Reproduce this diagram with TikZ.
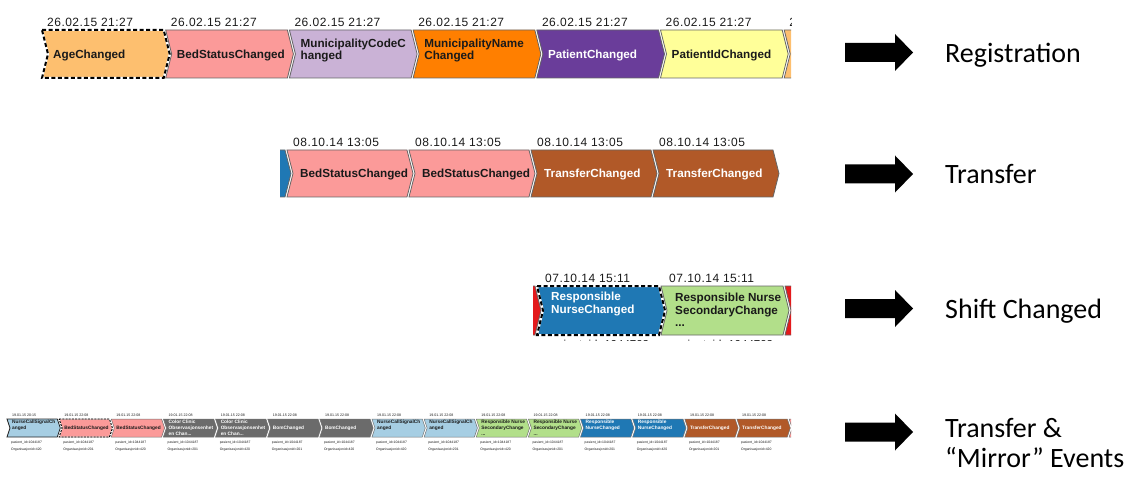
\documentclass[tikz,border=0pt]{standalone}
\usepackage{fontspec}
\setmainfont{Liberation Sans}
\newfontfamily\capfont{Carlito}
\newfontfamily\stampfont[LetterSpace=4]{Liberation Sans}

% event type colours
\definecolor{cPeach}{HTML}{FDBF6F}
\definecolor{cPink}{HTML}{FB9A99}
\definecolor{cLilac}{HTML}{CAB2D6}
\definecolor{cOrange}{HTML}{FF7F00}
\definecolor{cPurple}{HTML}{6A3D9A}
\definecolor{cYellow}{HTML}{FFFF99}
\definecolor{cBrown}{HTML}{B15928}
\definecolor{cBlue}{HTML}{1F78B4}
\definecolor{cGreen}{HTML}{B2DF8A}
\definecolor{cSky}{HTML}{A6CEE3}
\definecolor{cRed}{HTML}{E31A1C}
\definecolor{cGray}{HTML}{6B6B6B}
\definecolor{ink}{HTML}{1A1A1A}

% chevron: left x, top y, bottom y, top edge length, point depth, options
\newcommand\chev[6]{%
  \path[#6] (#1,#2) -- ({#1+#4},#2) -- ({#1+#4+#5},{(#2+#3)/2}) -- ({#1+#4},#3)
    -- (#1,#3) -- ({#1+#5},{(#2+#3)/2}) -- cycle;}

% large black arrow centred at height #1
\newcommand\bigarrow[1]{%
  \fill (845,{#1-9.5}) -- (895,{#1-9.5}) -- (895,{#1-18.5}) -- (913,#1)
    -- (895,{#1+18.5}) -- (895,{#1+9.5}) -- (845,{#1+9.5}) -- cycle;}

\tikzset{
  boxline/.style={draw=black!60, line width=0.8pt},
  thinline/.style={draw=black!55, line width=0.5pt},
  selwhite/.style={draw=white, line width=2pt},
  seldash/.style={draw=black, line width=2pt, dash pattern=on 4pt off 2.5pt},
  selwhiteS/.style={draw=white, line width=0.9pt},
  seldashS/.style={draw=black, line width=0.9pt, dash pattern=on 2pt off 1.2pt},
  stamp/.style={font=\stampfont\fontsize{12}{12}\selectfont, inner sep=0pt, anchor=west, text=ink},
  labA/.style={font=\fontsize{11.7}{12.5}\selectfont\bfseries, inner sep=0pt, align=left, anchor=west},
  stampD/.style={font=\fontsize{3.6}{3.6}\selectfont, inner sep=0pt, anchor=west, text=ink},
  labD/.style={font=\fontsize{4.8}{6}\selectfont\bfseries, inner sep=0pt, align=left, anchor=west},
  infoD/.style={font=\fontsize{3.4}{3.4}\selectfont, inner sep=0pt, anchor=west, text=ink},
  caption/.style={font=\capfont\fontsize{28}{30}\selectfont, inner sep=0pt, anchor=base west},
  cutinfo/.style={font=\fontsize{11.5}{11.5}\selectfont, inner sep=0pt, anchor=base west, text=ink},
}

% registration row box: index, fill, text colour, label, label y-shift
\newcommand\boxA[5]{%
  \pgfmathsetmacro\xo{42+123.7*#1}
  \chev{\xo}{30}{78}{121.7}{6}{fill=#2,boxline}
  \node[stamp] (a#1t) at (\xo+5,22.5) {26.02.15 21:27};
  \node[labA,text=#3] (a#1) at (\xo+11,55.5+#5) {#4};}

% transfer row box
\newcommand\boxB[4]{%
  \pgfmathsetmacro\xo{287+122*#1}
  \chev{\xo}{150}{197}{120}{6}{fill=#2,boxline}
  \node[stamp] (b#1t) at (\xo+6,142.5) {08.10.14 13:05};
  \node[labA,text=#3] (b#1) at (\xo+13,174.5) {#4};}

% shift row box
\newcommand\boxC[5]{%
  \pgfmathsetmacro\xo{537+124*#1}
  \chev{\xo}{286}{335}{122}{6}{fill=#2,boxline}
  \node[stamp] (c#1t) at (\xo+8,278) {07.10.14 15:11};
  \node[labA,text=#3] (c#1) at (\xo+14,310+#5) {#4};}

% mirror row box: index, fill, text colour, label, label y-shift, org id, line style, time
\newcommand\boxD[8]{%
  \pgfmathsetmacro\xo{7+52.14*#1}
  \chev{\xo}{419}{437}{50.3}{3}{fill=#2,#7}
  \node[stampD] (d#1t) at (\xo+5,415) {#8};
  \node[labD,text=#3] (d#1) at (\xo+5,428+#5) {#4};
  \node[infoD] (d#1p) at (\xo+4,443) {pasient\_id=1044187};
  \node[infoD] (d#1o) at (\xo+4,450) {Organisasjonid=#6};}

\begin{document}
\begin{tikzpicture}[x=1pt,y=-1pt]
\useasboundingbox (0,0) rectangle (1131,478);

% ---------- Registration ----------
\begin{scope}
  \clip (0,0) rectangle (791,100);
  \boxA{0}{cPeach}{ink}{AgeChanged}{0}
  \chev{42}{30}{78}{121.7}{6}{selwhite}
  \chev{42}{30}{78}{121.7}{6}{seldash}
  \boxA{1}{cPink}{ink}{BedStatusChanged}{0}
  \boxA{2}{cLilac}{ink}{MunicipalityCodeC\\hanged}{-5}
  \boxA{3}{cOrange}{ink}{MunicipalityName\\Changed}{-5}
  \boxA{4}{cPurple}{white}{PatientChanged}{0}
  \boxA{5}{cYellow}{ink}{PatientIdChanged}{0}
  \boxA{6}{cPeach}{ink}{}{0}
\end{scope}

% ---------- Transfer ----------
\begin{scope}
  \clip (280,100) rectangle (791,220);
  \boxB{-1}{cBlue}{white}{}
  \boxB{0}{cPink}{ink}{BedStatusChanged}
  \boxB{1}{cPink}{ink}{BedStatusChanged}
  \boxB{2}{cBrown}{white}{TransferChanged}
  \boxB{3}{cBrown}{white}{TransferChanged}
\end{scope}

% ---------- Shift changed ----------
\begin{scope}
  \clip (533,260) rectangle (791,340);
  \chev{413}{286}{335}{122}{6}{fill=cRed,boxline}
  \chev{785}{286}{335}{122}{6}{fill=cRed,boxline}
  \boxC{0}{cBlue}{white}{Responsible\\NurseChanged}{-6.25}
  \chev{537}{286}{335}{122}{6}{selwhite}
  \chev{537}{286}{335}{122}{6}{seldash}
  \boxC{1}{cGreen}{ink}{Responsible Nurse\\SecondaryChange\\...}{0}
  \node[cutinfo] (c0p) at (545,348.5) {pasient\_id=1044703};
  \node[cutinfo] (c1p) at (669,348.5) {pasient\_id=1044703};
\end{scope}

% ---------- Transfer & mirror events ----------
\begin{scope}
  \clip (0,400) rectangle (791,460);
  \boxD{0}{cSky}{ink}{NurseCallSignalCh\\anged}{-3}{420}{draw=black!85,line width=0.8pt}{19.01.15 20:15}
  \boxD{1}{cPink}{ink}{BedStatusChanged}{0}{201}{thinline}{19.01.15 22:08}
  \chev{59.14}{419}{437}{50.3}{3}{selwhiteS}
  \chev{59.14}{419}{437}{50.3}{3}{seldashS}
  \boxD{2}{cPink}{ink}{BedStatusChanged}{0}{420}{thinline}{19.01.15 22:08}
  \boxD{3}{cGray}{white}{Color Clinic\\Observasjonsenhet\\en Chan...}{0}{201}{thinline}{19.01.15 22:08}
  \boxD{4}{cGray}{white}{Color Clinic\\Observasjonsenhet\\en Chan...}{0}{420}{thinline}{19.01.15 22:08}
  \boxD{5}{cGray}{white}{BomChanged}{0}{201}{thinline}{19.01.15 22:08}
  \boxD{6}{cGray}{white}{BomChanged}{0}{420}{thinline}{19.01.15 22:08}
  \boxD{7}{cSky}{ink}{NurseCallSignalCh\\anged}{-3}{420}{thinline}{19.01.15 22:08}
  \boxD{8}{cSky}{ink}{NurseCallSignalCh\\anged}{-3}{201}{thinline}{19.01.15 22:08}
  \boxD{9}{cGreen}{ink}{Responsible Nurse\\SecondaryChange\\...}{0}{420}{thinline}{19.01.15 22:08}
  \boxD{10}{cGreen}{ink}{Responsible Nurse\\SecondaryChange\\...}{0}{201}{thinline}{19.01.15 22:08}
  \boxD{11}{cBlue}{white}{Responsible\\NurseChanged}{-3}{201}{thinline}{19.01.15 22:08}
  \boxD{12}{cBlue}{white}{Responsible\\NurseChanged}{-3}{420}{thinline}{19.01.15 22:08}
  \boxD{13}{cBrown}{white}{TransferChanged}{0}{201}{thinline}{19.01.15 22:08}
  \boxD{14}{cBrown}{white}{TransferChanged}{0}{420}{thinline}{19.01.15 22:08}
  \chev{789.1}{419}{437}{50.3}{3}{fill=cPink,thinline}
\end{scope}

% ---------- arrows and captions ----------
\bigarrow{52.5}
\bigarrow{174}
\bigarrow{308.5}
\bigarrow{432}
\node[caption] (regLab) at (945,62.5) {Registration};
\node[caption] (trLab) at (945,184) {Transfer};
\node[caption] (shLab) at (945,318.5) {Shift Changed};
\node[caption] (mirLabA) at (945,437) {Transfer \&};
\node[caption] (mirLabB) at (945,467) {“Mirror” Events};
\end{tikzpicture}
\end{document}
